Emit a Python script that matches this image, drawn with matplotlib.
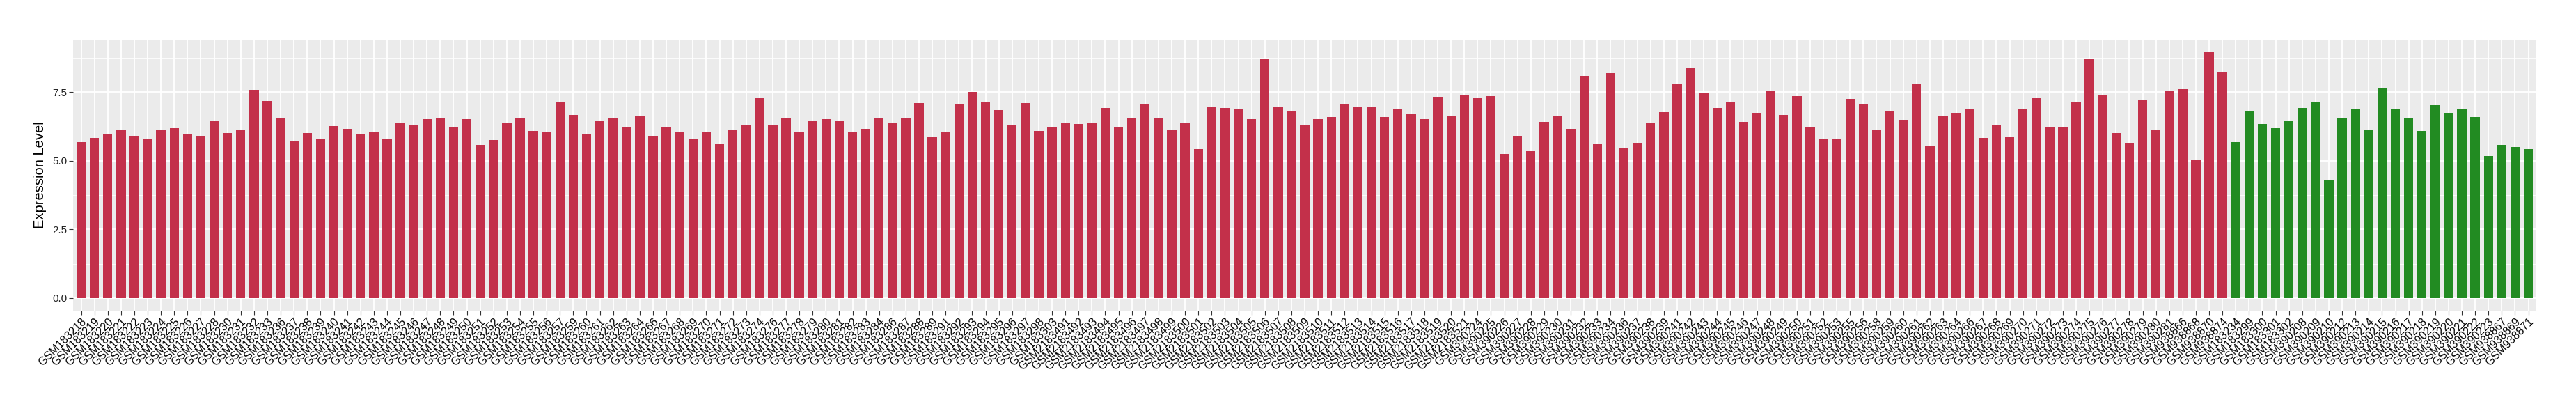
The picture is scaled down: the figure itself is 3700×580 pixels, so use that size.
import matplotlib
matplotlib.use("Agg")
import matplotlib.pyplot as plt
from matplotlib.ticker import MultipleLocator

plt.rcParams['font.family'] = ['Liberation Sans', 'DejaVu Sans']

# samples of the first group (red)
red_samples = [
    'GSM183218', 'GSM183219', 'GSM183220', 'GSM183221', 'GSM183222', 'GSM183223',
    'GSM183224', 'GSM183225', 'GSM183226', 'GSM183227', 'GSM183228', 'GSM183230',
    'GSM183231', 'GSM183232', 'GSM183233', 'GSM183236', 'GSM183237', 'GSM183238',
    'GSM183239', 'GSM183240', 'GSM183241', 'GSM183242', 'GSM183243', 'GSM183244',
    'GSM183245', 'GSM183246', 'GSM183247', 'GSM183248', 'GSM183249', 'GSM183250',
    'GSM183251', 'GSM183252', 'GSM183253', 'GSM183254', 'GSM183255', 'GSM183256',
    'GSM183257', 'GSM183259', 'GSM183260', 'GSM183261', 'GSM183262', 'GSM183263',
    'GSM183264', 'GSM183266', 'GSM183267', 'GSM183268', 'GSM183269', 'GSM183270',
    'GSM183271', 'GSM183272', 'GSM183273', 'GSM183274', 'GSM183276', 'GSM183277',
    'GSM183278', 'GSM183279', 'GSM183280', 'GSM183281', 'GSM183282', 'GSM183283',
    'GSM183284', 'GSM183286', 'GSM183287', 'GSM183288', 'GSM183289', 'GSM183291',
    'GSM183292', 'GSM183293', 'GSM183294', 'GSM183295', 'GSM183296', 'GSM183297',
    'GSM183298', 'GSM183303', 'GSM2183491', 'GSM2183492', 'GSM2183493', 'GSM2183494',
    'GSM2183495', 'GSM2183496', 'GSM2183497', 'GSM2183498', 'GSM2183499', 'GSM2183500',
    'GSM2183501', 'GSM2183502', 'GSM2183503', 'GSM2183504', 'GSM2183505', 'GSM2183506',
    'GSM2183507', 'GSM2183508', 'GSM2183509', 'GSM2183510', 'GSM2183511', 'GSM2183512',
    'GSM2183513', 'GSM2183514', 'GSM2183515', 'GSM2183516', 'GSM2183517', 'GSM2183518',
    'GSM2183519', 'GSM2183520', 'GSM2183521', 'GSM390224', 'GSM390225', 'GSM390226',
    'GSM390227', 'GSM390228', 'GSM390229', 'GSM390230', 'GSM390231', 'GSM390232',
    'GSM390233', 'GSM390234', 'GSM390236', 'GSM390237', 'GSM390238', 'GSM390239',
    'GSM390241', 'GSM390242', 'GSM390243', 'GSM390244', 'GSM390245', 'GSM390246',
    'GSM390247', 'GSM390248', 'GSM390249', 'GSM390250', 'GSM390251', 'GSM390252',
    'GSM390253', 'GSM390255', 'GSM390256', 'GSM390258', 'GSM390259', 'GSM390260',
    'GSM390261', 'GSM390262', 'GSM390263', 'GSM390264', 'GSM390266', 'GSM390267',
    'GSM390268', 'GSM390269', 'GSM390270', 'GSM390271', 'GSM390272', 'GSM390273',
    'GSM390274', 'GSM390275', 'GSM390276', 'GSM390277', 'GSM390278', 'GSM390279',
    'GSM390280', 'GSM390281', 'GSM938866', 'GSM938868', 'GSM938870', 'GSM938874',
]
red_values = [
    5.68, 5.84, 5.99, 6.11, 5.91, 5.78, 6.14, 6.19, 5.96, 5.91, 6.46, 6.01,
    6.11, 7.57, 7.17, 6.57, 5.71, 6.01, 5.78, 6.27, 6.16, 5.96, 6.03, 5.81,
    6.39, 6.32, 6.52, 6.57, 6.24, 6.52, 5.59, 5.76, 6.39, 6.54, 6.09, 6.03,
    7.14, 6.67, 5.96, 6.44, 6.54, 6.24, 6.62, 5.91, 6.24, 6.03, 5.78, 6.06,
    5.60, 6.14, 6.31, 7.28, 6.31, 6.57, 6.03, 6.44, 6.52, 6.44, 6.03, 6.16,
    6.54, 6.36, 6.54, 7.10, 5.88, 6.03, 7.07, 7.50, 7.13, 6.85, 6.31, 7.10,
    6.09, 6.24, 6.39, 6.34, 6.36, 6.92, 6.24, 6.57, 7.04, 6.54, 6.11, 6.36,
    5.43, 6.97, 6.92, 6.87, 6.52, 8.71, 6.97, 6.79, 6.29, 6.52, 6.59, 7.04,
    6.95, 6.97, 6.59, 6.87, 6.72, 6.52, 7.32, 6.64, 7.38, 7.28, 7.35, 5.26,
    5.91, 5.35, 6.42, 6.62, 6.16, 8.08, 5.60, 8.18, 5.48, 5.66, 6.36, 6.77,
    7.81, 8.36, 7.47, 6.92, 7.14, 6.42, 6.74, 7.53, 6.67, 7.35, 6.24, 5.78,
    5.81, 7.25, 7.04, 6.14, 6.82, 6.49, 7.81, 5.53, 6.64, 6.74, 6.87, 5.84,
    6.29, 5.88, 6.87, 7.30, 6.24, 6.21, 7.13, 8.71, 7.38, 6.01, 5.66, 7.22,
    6.14, 7.53, 7.60, 5.01, 8.97, 8.24,
]

# samples of the second group (green)
green_samples = [
    'GSM183234', 'GSM183299', 'GSM183300', 'GSM183301', 'GSM183302', 'GSM390208',
    'GSM390209', 'GSM390210', 'GSM390212', 'GSM390213', 'GSM390214', 'GSM390215',
    'GSM390216', 'GSM390217', 'GSM390218', 'GSM390219', 'GSM390220', 'GSM390221',
    'GSM390222', 'GSM390223', 'GSM938867', 'GSM938869', 'GSM938871',
]
green_values = [
    5.68, 6.82, 6.34, 6.19, 6.44, 6.92, 7.14, 4.29, 6.57, 6.89, 6.14, 7.65,
    6.87, 6.54, 6.09, 7.02, 6.74, 6.89, 6.59, 5.17, 5.59, 5.51, 5.43,
]

red_color = '#C3304A'
green_color = '#228B22'

samples = red_samples + green_samples
values = red_values + green_values
colors = [red_color] * len(red_values) + [green_color] * len(green_values)
positions = list(range(len(samples)))

fig = plt.figure(figsize=(37, 5.8), dpi=100)
ax = fig.add_axes([0.0284, 0.2316, 0.9562, 0.6709])
ax.set_facecolor('#EBEBEB')

ax.bar(positions, values, width=0.7, color=colors, zorder=3)

# ggplot-like scales
top = max(values)
ax.set_xlim(-0.6, len(samples) - 1 + 0.6)
ax.set_ylim(-0.05 * top, 1.05 * top)
ax.yaxis.set_minor_locator(MultipleLocator(1.25))
ax.set_yticks([0, 2.5, 5.0, 7.5])
ax.set_yticklabels(['0.0', '2.5', '5.0', '7.5'])

ax.set_xticks(positions)
ax.set_xticklabels(samples, rotation=45, ha='right', va='top',
                   rotation_mode='anchor', fontsize=11.5, color='black')

ax.grid(which='major', color='white', linewidth=1.3, zorder=0)
ax.grid(which='minor', axis='y', color='white', linewidth=0.6, zorder=0)
ax.set_axisbelow(True)
for s in ax.spines.values():
    s.set_visible(False)
ax.tick_params(axis='both', which='major', length=4, width=0.8, color='#333333')
ax.tick_params(axis='y', labelsize=11, labelcolor='#222222', pad=2)
ax.tick_params(axis='x', pad=2)
ax.tick_params(which='minor', length=0)

ax.set_ylabel('Expression Level', fontsize=14.5, labelpad=6)

fig.savefig('out.png', dpi=100)
